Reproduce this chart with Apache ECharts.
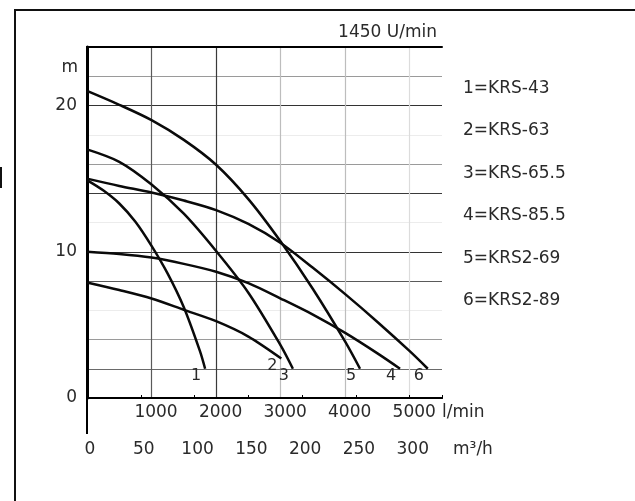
<!DOCTYPE html>
<html>
<head>
<meta charset="utf-8">
<script src="https://cdn.jsdelivr.net/npm/echarts@6/dist/echarts.min.js"></script>
<style>html,body{margin:0;padding:0;background:#fff;}#c{width:635px;height:501px;}</style>
</head>
<body>
<div id="c"></div>
<script>
// ---- data (flow in l/min, head in m) ----
const seriesNames = ['KRS-43', 'KRS-63', 'KRS-65.5', 'KRS-85.5', 'KRS2-69', 'KRS2-89'];
const curveLabels = ['1', '2', '3', '4', '5', '6'];

const q1 = [0, 250, 500, 750, 1000, 1250, 1500, 1750, 1830];
const h1 = [14.9, 14.2, 13.3, 12.05, 10.4, 8.5, 6.2, 3.2, 2.0];

const q2 = [0, 500, 1000, 1500, 2000, 2500, 3010];
const h2 = [7.9, 7.38, 6.8, 6.03, 5.25, 4.2, 2.7];

const q3 = [0, 500, 1000, 1500, 2000, 2500, 3000, 3190];
const h3 = [17.0, 16.15, 14.6, 12.6, 10.05, 7.2, 3.6, 2.0];

const q4 = [0, 500, 1000, 1500, 2000, 2500, 3000, 3500, 4000, 4500, 4850];
const h4 = [10.0, 9.85, 9.6, 9.17, 8.63, 7.85, 6.8, 5.7, 4.45, 3.05, 2.0];

const q5 = [0, 500, 1000, 1500, 2000, 2500, 3000, 3500, 4000, 4230];
const h5 = [21.0, 20.05, 19.0, 17.65, 15.95, 13.6, 10.7, 7.45, 3.85, 2.0];

const q6 = [0, 500, 1000, 1500, 2000, 2500, 3000, 3500, 4000, 4500, 5000, 5280];
const h6 = [15.0, 14.5, 14.05, 13.5, 12.85, 11.9, 10.6, 8.9, 7.1, 5.2, 3.2, 2.0];

// axis scales
const flowMax = 5500;       // l/min
const flowStep = 1000;
const m3hMax = 330;         // m3/h  (= 5500 l/min * 0.06)
const m3hStep = 50;
const headMax = 24;
const headStep = 2;
const headLabels = [0, 10, 20];

const title = '1450 U/min';
const flowUnit = 'l/min';
const m3hUnit = 'm³/h';
const headUnit = 'm';

const Q = [q1, q2, q3, q4, q5, q6];
const H = [h1, h2, h3, h4, h5, h6];

const FONT = 'DejaVu Sans';
const TXT = '#2a2a2a';

const chart = echarts.init(document.getElementById('c'));

const series = Q.map((qs, i) => ({
  name: seriesNames[i],
  type: 'line',
  xAxisIndex: 0,
  yAxisIndex: 0,
  data: qs.map((q, j) => [q, H[i][j]]),
  showSymbol: false,
  symbol: 'none',
  smooth: 0.3,
  lineStyle: { color: '#0a0a0a', width: 2.5 },
  itemStyle: { color: '#0a0a0a' },
  endLabel: {
    show: true,
    formatter: () => curveLabels[i],
    align: 'center',
    verticalAlign: 'middle',
    distance: 0,
    offset: [-9, 7],
    fontFamily: FONT,
    fontSize: 16,
    color: TXT
  },
  z: 5
}));

const option = {
  animation: false,
  backgroundColor: '#fff',
  title: {
    text: title,
    right: 198,
    top: 24,
    padding: 0,
    textStyle: { fontFamily: FONT, fontSize: 17, fontWeight: 'normal', color: TXT }
  },
  legend: {
    orient: 'vertical',
    left: 458,
    top: 80,
    padding: 0,
    itemGap: 25.4,
    itemWidth: 0,
    itemHeight: 0,
    icon: 'rect',
    selectedMode: false,
    data: seriesNames,
    formatter: (name) => (seriesNames.indexOf(name) + 1) + '=' + name,
    textStyle: { fontFamily: FONT, fontSize: 17, color: TXT, lineHeight: 17 }
  },
  grid: { left: 87, right: 193, top: 47, bottom: 103 },
  xAxis: [
    {
      type: 'value', position: 'bottom', min: 0, max: flowMax, interval: flowStep,
      axisLine: { show: true, lineStyle: { color: '#000', width: 2 } },
      axisTick: { show: false },
      axisLabel: {
        fontFamily: FONT, fontSize: 17, color: TXT, margin: 6, lineHeight: 17,
        padding: [0, 0, 0, 9],
        formatter: (v) => (v === 0 || v > 5000) ? '' : String(v)
      },
      splitLine: {
        show: true,
        lineStyle: { width: 1.2, color: ['rgba(0,0,0,0)', '#5a5a5a', '#3a3a3a', '#bdbdbd', '#bdbdbd', '#dcdcdc', 'rgba(0,0,0,0)'] }
      },
      name: flowUnit, nameLocation: 'end', nameGap: 0,
      nameTextStyle: { fontFamily: FONT, fontSize: 17, color: TXT, verticalAlign: 'top', align: 'left', padding: [6, 0, 0, 0], lineHeight: 17 }
    },
    {
      type: 'value', position: 'bottom', offset: 35, min: 0, max: m3hMax, interval: m3hStep,
      axisLine: { show: true, lineStyle: { color: '#000', width: 1.8 } },
      axisTick: { show: true, inside: true, length: 3, lineStyle: { color: '#000' } },
      axisLabel: {
        fontFamily: FONT, fontSize: 17, color: TXT, margin: 8, lineHeight: 17,
        padding: [0, 0, 0, 6],
        formatter: (v) => v > 300 ? '' : String(v)
      },
      splitLine: { show: false }
    },
    {
      type: 'value', position: 'top', min: 0, max: flowMax,
      axisLine: { show: true, lineStyle: { color: '#000', width: 2 } },
      axisTick: { show: false }, axisLabel: { show: false }, splitLine: { show: false }
    }
  ],
  yAxis: [
    {
      type: 'value', position: 'left', min: 0, max: headMax, interval: headStep,
      axisLine: { show: true, lineStyle: { color: '#000', width: 2 } },
      axisTick: { show: false },
      axisLabel: {
        fontFamily: FONT, fontSize: 17, color: TXT, margin: 10,
        formatter: (v) => headLabels.indexOf(v) >= 0 ? String(v) : ''
      },
      splitLine: {
        show: true,
        lineStyle: {
          width: 1.2,
          color: ['rgba(0,0,0,0)', '#6a6a6a', '#9a9a9a', '#ececec', '#5a5a5a', '#333', '#ececec',
                  '#3a3a3a', '#9a9a9a', '#ececec', '#333', '#9a9a9a', 'rgba(0,0,0,0)']
        }
      },
      name: headUnit, nameLocation: 'end', nameGap: -21,
      nameTextStyle: { fontFamily: FONT, fontSize: 17, color: TXT, align: 'right', verticalAlign: 'middle', padding: [0, 9, 0, 0] }
    },
    {
      type: 'value', position: 'right', min: 0, max: headMax,
      axisLine: { show: true, lineStyle: { color: '#000', width: 3 } },
      axisTick: { show: false }, axisLabel: { show: false }, splitLine: { show: false }
    }
  ],
  graphic: [
    { type: 'rect', shape: { x: 15, y: 10, width: 900, height: 900 }, style: { fill: 'none', stroke: '#111', lineWidth: 2 }, silent: true },
    { type: 'line', shape: { x1: 87, y1: 397, x2: 87, y2: 434 }, style: { stroke: '#000', lineWidth: 2 }, silent: true },
    { type: 'rect', shape: { x: 0, y: 167, width: 2, height: 21 }, style: { fill: '#111' }, silent: true },
    { type: 'text', x: 453, y: 450, style: { text: m3hUnit, fontFamily: FONT, fontSize: 17, fill: TXT, verticalAlign: 'middle', align: 'left' }, silent: true }
  ],
  series: series
};

chart.setOption(option);
</script>
</body>
</html>
